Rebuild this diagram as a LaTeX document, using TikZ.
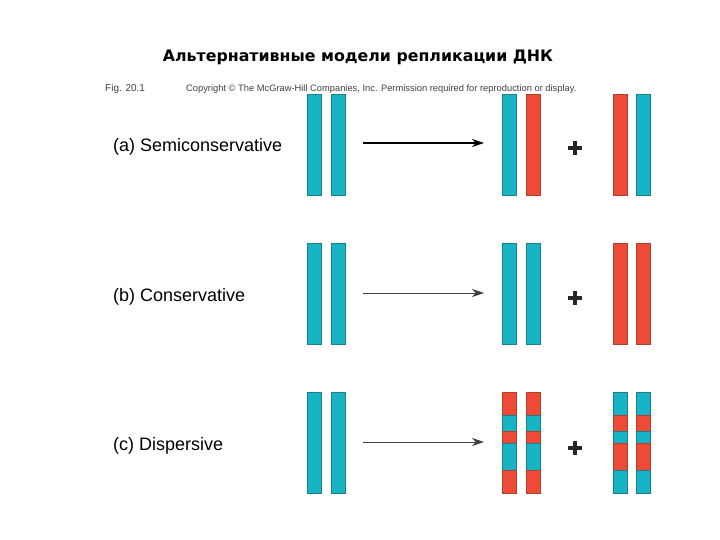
\documentclass[tikz,border=0pt]{standalone}
\usepackage{fontspec}
\setmainfont{Liberation Sans}
\newfontfamily\titlefont{DejaVu Sans}
\usetikzlibrary{arrows.meta}
\definecolor{dnacyan}{HTML}{17B4C6}
\definecolor{dnacyanedge}{HTML}{1E7E88}
\definecolor{dnared}{HTML}{EE4A35}
\definecolor{dnarededge}{HTML}{B0402E}
\definecolor{copygray}{HTML}{404040}
\tikzset{
  strandc/.style={draw=dnacyanedge, fill=dnacyan, line width=0.6pt, minimum width=13.5pt, minimum height=101pt, inner sep=0pt, anchor=north west},
  strandr/.style={draw=dnarededge, fill=dnared, line width=0.6pt, minimum width=13.5pt, minimum height=101pt, inner sep=0pt, anchor=north west},
  segr/.style={draw=dnarededge, fill=dnared, line width=0.5pt, minimum width=13.5pt, inner sep=0pt, anchor=north west},
  segc/.style={draw=dnacyanedge, fill=dnacyan, line width=0.5pt, minimum width=13.5pt, inner sep=0pt, anchor=north west},
  lbl/.style={anchor=base west, inner sep=0pt, font=\fontsize{18}{20}\selectfont},
  bigarrow/.style={-{Stealth[length=12pt,width=8pt]}, line width=1.3pt, black},
  thinarrow/.style={-{Stealth[length=12pt,width=8pt]}, line width=0.8pt, black!75},
  plussign/.style={line width=3.2pt, black!85},
}
\begin{document}
\begin{tikzpicture}[x=1pt,y=-1pt]
\useasboundingbox (0,0) rectangle (720,540);
% title and header
\node[anchor=base, inner sep=0pt, font=\titlefont\bfseries\fontsize{15.8}{18}\selectfont] (title) at (358,62) {Альтернативные модели репликации ДНК};
\node[anchor=base west, inner sep=0pt, font=\fontsize{10}{12}\selectfont, text=copygray] (fig) at (105,92) {Fig. 20.1};
\node[anchor=base west, inner sep=0pt, font=\fontsize{9.33}{11}\selectfont, text=copygray] (copy) at (186,92) {Copyright \textcopyright{} The McGraw-Hill Companies, Inc. Permission required for reproduction or display.};
% labels
\node[lbl] (la) at (113,152) {(a) Semiconservative};
\node[lbl] (lb) at (113,301) {(b) Conservative};
\node[lbl] (lc) at (113,450) {(c) Dispersive};
% row a
\node[strandc] (a1) at (307,94) {};
\node[strandc] (a2) at (331,94) {};
\node[strandc] (a3) at (502,94) {};
\node[strandr] (a4) at (526,94) {};
\node[strandr] (a5) at (613,94) {};
\node[strandc] (a6) at (636,94) {};
\coordinate (as) at (363,143);
\coordinate (ae) at (484,143);
\draw[bigarrow] (as) -- (ae);
\coordinate (pa) at (575,148);
\draw[plussign] ([xshift=-7pt]pa) -- ([xshift=7pt]pa) ([yshift=-7pt]pa) -- ([yshift=7pt]pa);
% row b
\node[strandc] (b1) at (307,243) {};
\node[strandc] (b2) at (331,243) {};
\node[strandc] (b3) at (502,243) {};
\node[strandc] (b4) at (526,243) {};
\node[strandr] (b5) at (613,243) {};
\node[strandr] (b6) at (636,243) {};
\coordinate (bs) at (363,293);
\coordinate (be) at (484,293);
\draw[thinarrow] (bs) -- (be);
\coordinate (pb) at (575,298);
\draw[plussign] ([xshift=-7pt]pb) -- ([xshift=7pt]pb) ([yshift=-7pt]pb) -- ([yshift=7pt]pb);
% row c
\node[strandc] (c1) at (307,392) {};
\node[strandc] (c2) at (331,392) {};
\coordinate (cs) at (363,442);
\coordinate (ce) at (484,442);
\draw[thinarrow] (cs) -- (ce);
\coordinate (pc) at (575,448);
\draw[plussign] ([xshift=-7pt]pc) -- ([xshift=7pt]pc) ([yshift=-7pt]pc) -- ([yshift=7pt]pc);
% dispersive strands: segments
\foreach \x/\n in {502/l1,526/l2}{
  \node[segr, minimum height=23pt] (\n s1) at (\x,392) {};
  \node[segc, minimum height=16pt] (\n s2) at (\x,415) {};
  \node[segr, minimum height=12pt] (\n s3) at (\x,431) {};
  \node[segc, minimum height=27pt] (\n s4) at (\x,443) {};
  \node[segr, minimum height=23pt] (\n s5) at (\x,470) {};
}
\foreach \x/\n in {613/r1,636/r2}{
  \node[segc, minimum height=23pt] (\n s1) at (\x,392) {};
  \node[segr, minimum height=16pt] (\n s2) at (\x,415) {};
  \node[segc, minimum height=12pt] (\n s3) at (\x,431) {};
  \node[segr, minimum height=27pt] (\n s4) at (\x,443) {};
  \node[segc, minimum height=23pt] (\n s5) at (\x,470) {};
}
\end{tikzpicture}
\end{document}
